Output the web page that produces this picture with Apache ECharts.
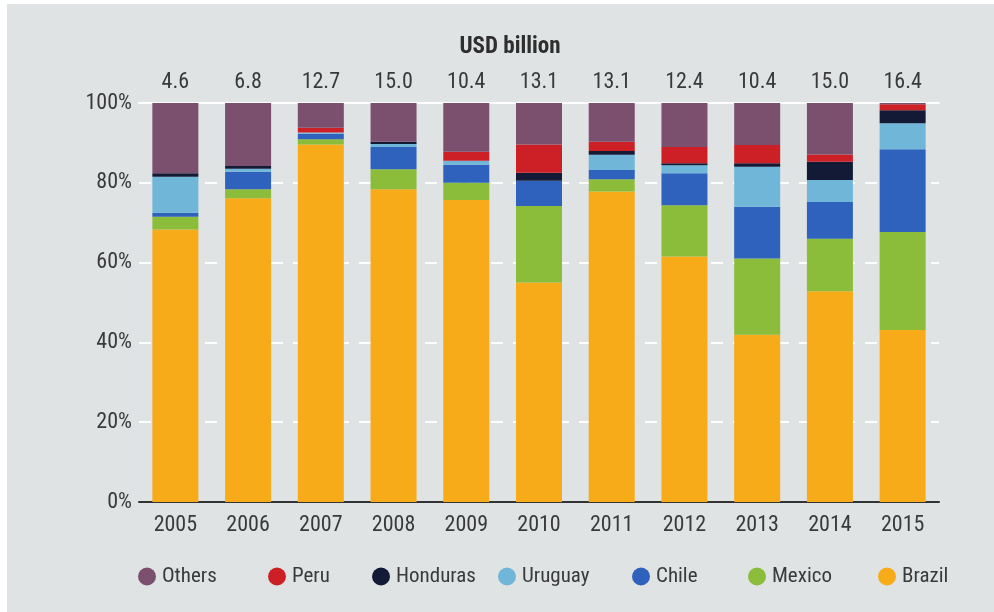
<!DOCTYPE html>
<html>
<head>
<meta charset="utf-8">
<script src="https://cdn.jsdelivr.net/npm/echarts@6/dist/echarts.min.js"></script>
<style>
  html, body { margin: 0; padding: 0; background: #ffffff; }
  #chart { width: 994px; height: 612px; }
</style>
</head>
<body>
<div id="chart"></div>
<script>
// Investment shares by country, per year (% of annual total)
const years = ['2005', '2006', '2007', '2008', '2009', '2010', '2011', '2012', '2013', '2014', '2015'];
const totals = ['4.6', '6.8', '12.7', '15.0', '10.4', '13.1', '13.1', '12.4', '10.4', '15.0', '16.4'];
const yTicks = [0, 20, 40, 60, 80, 100];

const brazil   = [68.3, 76.1, 89.6, 78.4, 75.7, 55.0, 77.8, 61.5, 41.9, 52.8, 43.1];
const mexico   = [3.2, 2.3, 1.3, 5.0, 4.3, 19.2, 3.1, 12.9, 19.1, 13.2, 24.6];
const chile    = [1.0, 4.4, 1.4, 5.6, 4.5, 6.3, 2.3, 8.0, 13.0, 9.2, 20.7];
const uruguay  = [9.0, 0.7, 0.3, 0.7, 1.0, 0.0, 3.8, 2.0, 10.0, 5.5, 6.5];
const honduras = [0.9, 0.7, 0.0, 0.6, 0.0, 2.0, 1.0, 0.5, 0.9, 4.6, 3.3];
const peru     = [0.0, 0.0, 1.2, 0.0, 2.3, 7.1, 2.3, 4.1, 4.6, 1.8, 1.5];
const others   = [17.6, 15.8, 6.2, 9.7, 12.2, 10.4, 9.7, 11.0, 10.5, 12.9, 0.3];

const seriesDefs = [
  { name: 'Brazil',   data: brazil,   color: '#f7ab18' },
  { name: 'Mexico',   data: mexico,   color: '#8bbd3b' },
  { name: 'Chile',    data: chile,    color: '#2f62bd' },
  { name: 'Uruguay',  data: uruguay,  color: '#6fb6d9' },
  { name: 'Honduras', data: honduras, color: '#121a36' },
  { name: 'Peru',     data: peru,     color: '#cc1f26' },
  { name: 'Others',   data: others,   color: '#7b4f6e' }
];

const FONT = '"Liberation Sans Narrow", "Roboto Condensed", "DejaVu Sans Condensed", Lato, sans-serif';
const TEXT = '#3a3a3a';

// One legend block per entry so each sits at its own slot
const legendSlots = [
  { name: 'Others',   left: 138 },
  { name: 'Peru',     left: 268 },
  { name: 'Honduras', left: 372 },
  { name: 'Uruguay',  left: 498 },
  { name: 'Chile',    left: 632 },
  { name: 'Mexico',   left: 748 },
  { name: 'Brazil',   left: 878 }
];

const chart = echarts.init(document.getElementById('chart'), null, { renderer: 'canvas' });

chart.setOption({
  backgroundColor: '#dfe3e3',
  animation: false,
  textStyle: { fontFamily: FONT },
  title: {
    text: 'USD billion',
    left: 505,
    top: 31,
    textAlign: 'center',
    textStyle: { fontFamily: FONT, fontSize: 23, fontWeight: 'bold', color: '#2e2e2e' }
  },
  graphic: [
    { type: 'rect', shape: { x: 0, y: 0, width: 994, height: 4 }, style: { fill: '#ffffff' }, silent: true },
    { type: 'rect', shape: { x: 0, y: 0, width: 7, height: 612 }, style: { fill: '#ffffff' }, silent: true }
  ],
  legend: legendSlots.map(s => ({
    data: [{ name: s.name, icon: 'circle' }],
    left: s.left,
    top: 566,
    itemWidth: 18,
    itemHeight: 21,
    itemGap: 0,
    padding: 0,
    textStyle: { fontFamily: FONT, fontSize: 21, color: TEXT, padding: [0, 0, 0, 1] }
  })),
  grid: { left: 139, right: 55, top: 103, bottom: 110, containLabel: false },
  xAxis: [
    {
      type: 'category',
      data: years,
      position: 'bottom',
      axisLine: { show: true, lineStyle: { color: '#333333', width: 2 } },
      axisTick: { show: false },
      axisLabel: { fontFamily: FONT, fontSize: 22, color: TEXT, margin: 12 }
    },
    {
      type: 'category',
      data: totals,
      position: 'top',
      axisLine: { show: true, lineStyle: { color: '#ffffff', width: 2 } },
      axisTick: { show: false },
      axisLabel: { fontFamily: FONT, fontSize: 22, color: TEXT, margin: 10 }
    }
  ],
  yAxis: {
    type: 'value',
    min: yTicks[0],
    max: yTicks[yTicks.length - 1],
    interval: 20,
    axisLine: { show: false },
    axisTick: { show: false },
    axisLabel: { fontFamily: FONT, fontSize: 22, color: TEXT, margin: 7, formatter: '{value}%' },
    splitLine: { show: true, lineStyle: { color: '#ffffff', width: 2, type: [12, 10] } }
  },
  series: seriesDefs.map(s => ({
    name: s.name,
    type: 'bar',
    stack: 'share',
    xAxisIndex: 0,
    barWidth: 46,
    data: s.data,
    itemStyle: { color: s.color },
    emphasis: { disabled: true }
  }))
});
</script>
</body>
</html>
